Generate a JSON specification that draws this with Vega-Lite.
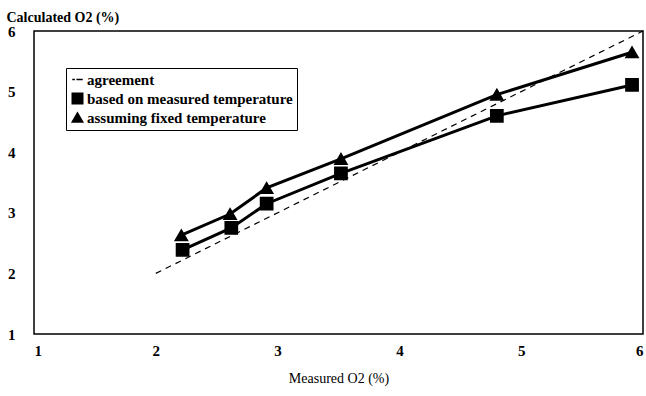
{
  "$schema": "https://vega.github.io/schema/vega-lite/v6.json",
  "width": 609,
  "height": 303,
  "autosize": {"type": "none"},
  "padding": {"left": 34, "top": 31, "right": 3, "bottom": 62},
  "background": "white",
  "config": {
    "view": {"stroke": "black", "strokeWidth": 1.5},
    "font": "Liberation Serif",
    "axis": {"labelFont": "Liberation Serif", "titleFont": "Liberation Serif"},
    "legend": {"labelFont": "Liberation Serif", "titleFont": "Liberation Serif"}
  },
  "data": {
    "values": [
      {"series": "agreement", "measured": 2, "calculated": 2},
      {"series": "agreement", "measured": 6, "calculated": 6},
      {"series": "based on measured temperature", "measured": 2.22, "calculated": 2.39},
      {"series": "based on measured temperature", "measured": 2.62, "calculated": 2.75},
      {"series": "based on measured temperature", "measured": 2.91, "calculated": 3.15},
      {"series": "based on measured temperature", "measured": 3.52, "calculated": 3.65},
      {"series": "based on measured temperature", "measured": 4.8, "calculated": 4.6},
      {"series": "based on measured temperature", "measured": 5.91, "calculated": 5.11},
      {"series": "assuming fixed temperature", "measured": 2.21, "calculated": 2.63},
      {"series": "assuming fixed temperature", "measured": 2.61, "calculated": 2.98},
      {"series": "assuming fixed temperature", "measured": 2.91, "calculated": 3.41},
      {"series": "assuming fixed temperature", "measured": 3.52, "calculated": 3.89},
      {"series": "assuming fixed temperature", "measured": 4.8, "calculated": 4.95},
      {"series": "assuming fixed temperature", "measured": 5.91, "calculated": 5.65}
    ]
  },
  "encoding": {
    "x": {
      "field": "measured", "type": "quantitative",
      "scale": {"domain": [1, 6], "nice": false, "zero": false},
      "axis": {
        "values": [1, 2, 3, 4, 5, 6], "grid": false, "ticks": false, "domain": false,
        "labelFontSize": 15, "labelFontWeight": "bold", "labelColor": "black", "labelPadding": 9,
        "title": "Measured O2 (%)", "titleFontSize": 14, "titleFontWeight": "normal", "titleColor": "black", "titlePadding": 13
      }
    },
    "y": {
      "field": "calculated", "type": "quantitative",
      "scale": {"domain": [1, 6], "nice": false, "zero": false},
      "axis": {
        "values": [1, 2, 3, 4, 5, 6], "grid": false, "ticks": false, "domain": false,
        "labelFontSize": 15, "labelFontWeight": "bold", "labelColor": "black", "labelPadding": 19,
        "title": "Calculated O2 (%)", "titleFontSize": 14, "titleFontWeight": "bold", "titleColor": "black",
        "titleAngle": 0, "titleAlign": "left", "titleBaseline": "alphabetic", "titleX": -28, "titleY": -10
      }
    }
  },
  "layer": [
    {
      "transform": [{"filter": "datum.series === 'agreement'"}],
      "mark": {"type": "line", "color": "black", "strokeWidth": 1.2, "strokeDash": [6, 5]}
    },
    {
      "transform": [{"filter": "datum.series !== 'agreement'"}],
      "mark": {"type": "line", "color": "black", "strokeWidth": 3},
      "encoding": {"detail": {"field": "series"}}
    },
    {
      "transform": [{"filter": "datum.series !== 'agreement'"}],
      "mark": {"type": "point", "filled": true, "fill": "black", "stroke": "black", "strokeWidth": 1.5, "opacity": 1, "size": 150},
      "encoding": {
        "shape": {
          "field": "series", "type": "nominal",
          "scale": {
            "domain": ["agreement", "based on measured temperature", "assuming fixed temperature"],
            "range": ["M-1,0L-0.5,0M-0.2,0L1,0", "square", "triangle-up"]
          },
          "legend": {
            "title": null, "orient": "none", "legendX": 32, "legendY": 37,
            "strokeColor": "black", "fillColor": "white", "padding": 4,
            "labelFontSize": 15, "labelFontWeight": "bold", "labelColor": "black",
            "symbolSize": 110, "symbolOpacity": 1, "symbolStrokeWidth": 1.5, "rowPadding": 2, "labelOffset": 2, "labelLimit": 400
          }
        }
      }
    }
  ]
}
